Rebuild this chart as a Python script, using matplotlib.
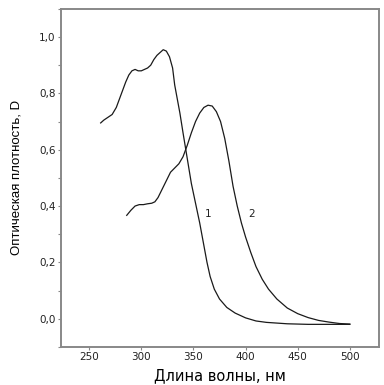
import matplotlib.pyplot as plt
from matplotlib.ticker import FuncFormatter, MultipleLocator

plt.rcParams['font.family'] = ['DejaVu Sans']

# curve 1
wl_1 = [261, 264, 268, 272, 276, 279, 282, 285, 288, 291, 294, 297, 300, 303,
        306, 309, 312, 315, 318, 321, 324, 327, 330, 332, 334, 337, 340, 344,
        348, 352, 356, 360, 363, 366, 370, 375, 382, 390, 400, 410, 420, 440,
        460, 480, 500]
d_1 = [0.695, 0.705, 0.715, 0.725, 0.75, 0.78, 0.81, 0.84, 0.865, 0.88, 0.885,
       0.88, 0.88, 0.885, 0.89, 0.9, 0.92, 0.935, 0.945, 0.955, 0.95, 0.93,
       0.89, 0.83, 0.79, 0.73, 0.66, 0.57, 0.48, 0.41, 0.34, 0.26, 0.2, 0.15,
       0.105, 0.07, 0.04, 0.02, 0.003, -0.008, -0.013, -0.018, -0.02, -0.02,
       -0.02]

# curve 2
wl_2 = [286, 290, 294, 298, 302, 306, 310, 313, 316, 320, 324, 328, 332, 336,
        340, 344, 348, 352, 356, 360, 364, 368, 372, 376, 380, 384, 388, 392,
        396, 400, 405, 410, 416, 422, 430, 440, 450, 460, 470, 480, 490, 500]
d_2 = [0.367, 0.385, 0.4, 0.405, 0.405, 0.408, 0.41, 0.415, 0.43, 0.46, 0.49,
       0.52, 0.535, 0.55, 0.575, 0.615, 0.66, 0.7, 0.73, 0.75, 0.758, 0.755,
       0.735, 0.7, 0.64, 0.56, 0.47, 0.4, 0.34, 0.29, 0.235, 0.185, 0.14,
       0.105, 0.07, 0.038, 0.018, 0.004, -0.006, -0.012, -0.017, -0.019]

curve_labels = ['1', '2']
label_x = [364, 406]
label_y = [0.37, 0.37]

fig = plt.figure(figsize=(3.84, 3.85), dpi=100)
ax = fig.add_axes([0.159, 0.099, 0.828, 0.878])

ax.plot(wl_1, d_1, color='#1a1a1a', lw=0.9)
ax.plot(wl_2, d_2, color='#1a1a1a', lw=0.9)
for t, x, y in zip(curve_labels, label_x, label_y):
    ax.text(x, y, t, fontsize=7.5, ha='center', va='center', color='#222222')

ax.set_xlim(223, 528)
ax.set_ylim(-0.1, 1.1)
ax.xaxis.set_major_locator(MultipleLocator(50))
ax.yaxis.set_major_locator(MultipleLocator(0.2))
ax.yaxis.set_minor_locator(MultipleLocator(0.1))
ax.yaxis.set_major_formatter(FuncFormatter(lambda v, p: f'{v:.1f}'.replace('.', ',')))
ax.set_xticks([250, 300, 350, 400, 450, 500])
ax.set_xticklabels(['250', '300', '350', '400', '450', '500'])

for s in ax.spines.values():
    s.set_color('#888888')
    s.set_linewidth(1.4)
ax.tick_params(which='both', length=2, width=0.8, color='#888888',
               labelsize=7.5, labelcolor='#222222', pad=2)

ax.set_xlabel('Длина волны, нм', fontsize=10.5, labelpad=4)
ax.set_ylabel('Оптическая плотность, D', fontsize=9.5, labelpad=12,
              family=['Liberation Sans', 'DejaVu Sans'])

fig.savefig('out.png', dpi=100)
